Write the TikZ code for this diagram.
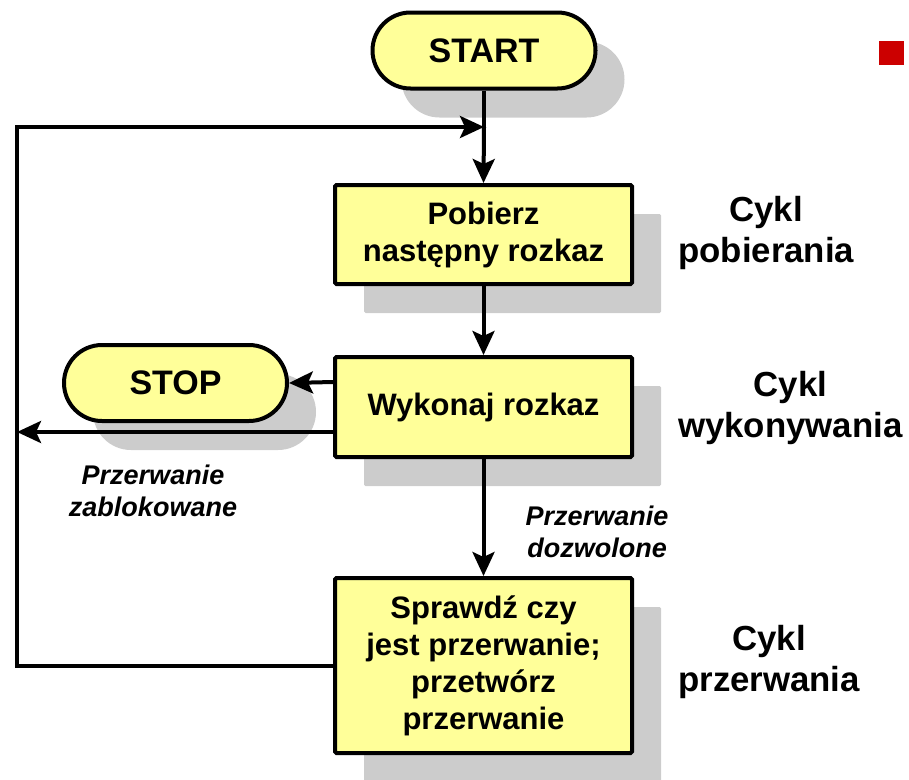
\documentclass[tikz,border=0pt]{standalone}
\usepackage{fontspec}
\setmainfont{Liberation Sans}
\usetikzlibrary{arrows.meta,shapes.misc,shadows}
\definecolor{boxyellow}{RGB}{255,255,153}
\definecolor{shadowgray}{RGB}{204,204,204}
\definecolor{markred}{RGB}{204,0,0}
\tikzset{
  shade/.style={drop shadow={shadow xshift=29pt, shadow yshift=-29pt, opacity=1, fill=shadowgray}},
  terminal/.style={rounded rectangle, draw=black, line width=4pt, fill=boxyellow, shade,
    minimum width=223pt, minimum height=76pt, inner sep=0pt,
    font=\fontsize{34}{40}\selectfont\bfseries},
  stepbox/.style={rectangle, draw=black, line width=4pt, fill=boxyellow, shade, rounded corners=1.5pt,
    minimum width=297pt, inner sep=0pt, align=center,
    font=\fontsize{31}{37}\selectfont\bfseries},
  cyclelabel/.style={anchor=west, align=center, inner sep=0pt,
    font=\fontsize{34.8}{41}\selectfont\bfseries},
  condlabel/.style={align=center, inner sep=0pt,
    font=\fontsize{27}{32}\selectfont\bfseries\itshape},
  flow/.style={line width=4pt, line join=miter, -{Stealth[length=24pt,width=22pt,inset=5pt]}},
  plain/.style={line width=4pt},
}
\begin{document}
\begin{tikzpicture}[x=1pt,y=-1pt]
\useasboundingbox (0,0) rectangle (909,779);

% flowchart steps
\node[terminal] (start) at (484,50.5) {START};
\node[stepbox, minimum height=99pt] (fetch) at (483.5,234.5) {Pobierz\\następny rozkaz};
\node[stepbox, minimum height=100pt] (exec) at (483.5,407) {Wykonaj rozkaz};
\node[terminal] (stop) at (175.5,383) {STOP};
\node[stepbox, minimum height=175pt] (intr) at (483.5,665.5) {Sprawdź czy\\jest przerwanie;\\przetwórz\\przerwanie};

% cycle names on the right
\node[cyclelabel] (cfetch) at (678,233) {Cykl\\pobierania};
\node[cyclelabel] (cexec) at (678,408) {Cykl\\wykonywania};
\node[cyclelabel] (cintr) at (678,662) {Cykl\\przerwania};

% branch conditions
\node[condlabel] (blocked) at (153,491) {Przerwanie\\zablokowane};
\node[condlabel] (allowed) at (597,532) {Przerwanie\\dozwolone};

% corner mark
\node[fill=markred, minimum width=25pt, minimum height=24pt, inner sep=0pt] (mark) at (891.5,53) {};

% loop-back corners
\coordinate (looptop) at (17,127);
\coordinate (join) at (start.south |- looptop);
\coordinate (leftend) at (17,432);

% connectors
\draw[plain] (start.south) -- (join);
\draw[flow] (join) -- (fetch.north);
\draw[flow] (fetch.south) -- (exec.north);
\draw[flow] ([yshift=25pt]exec.west) -- (stop.east);
\draw[flow] ([yshift=-25pt]exec.west) -- (leftend);
\draw[flow] (exec.south) -- (intr.north);
\draw[flow] (intr.west) -| (looptop) -- (join);
\end{tikzpicture}
\end{document}
